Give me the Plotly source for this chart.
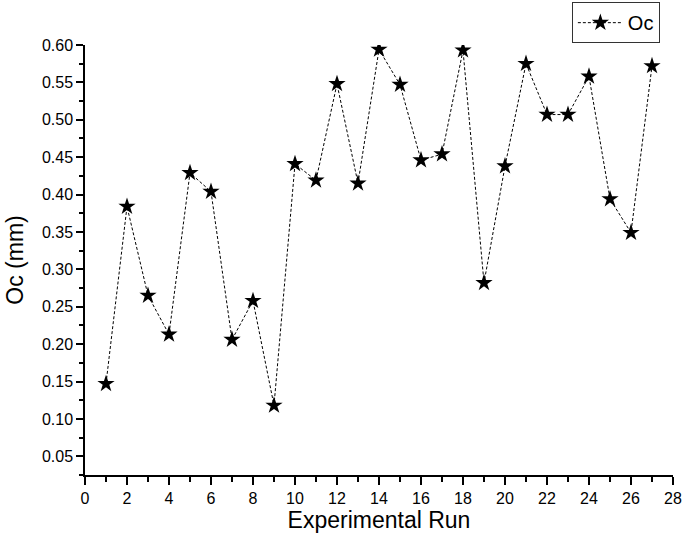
import plotly.graph_objects as go

runs = list(range(1, 28))
oc = [0.147, 0.384, 0.265, 0.213, 0.429, 0.404, 0.206, 0.258, 0.118, 0.441,
      0.419, 0.548, 0.415, 0.594, 0.547, 0.446, 0.454, 0.593, 0.282, 0.438,
      0.575, 0.507, 0.507, 0.558, 0.394, 0.349, 0.572]

FONT = "Liberation Sans, Arial, sans-serif"

fig = go.Figure()
fig.add_trace(go.Scatter(
    x=runs, y=oc, name="Oc", mode="lines+markers",
    line=dict(color="black", width=1, dash="3px,2px"),
    marker=dict(symbol="star", size=13, color="black"),
))

fig.update_layout(
    width=685, height=542,
    margin=dict(l=85, r=12, t=45, b=67),
    paper_bgcolor="white", plot_bgcolor="white",
    font=dict(family=FONT, color="black", size=16),
    showlegend=True,
    legend=dict(x=0.828, xref="paper", y=0.996, yref="container",
                xanchor="left", yanchor="top",
                bordercolor="#333", borderwidth=1, font=dict(size=20),
                itemwidth=45, tracegroupgap=0),
    xaxis=dict(range=[0, 28], tick0=0, dtick=2, showline=True, linecolor="black",
               linewidth=1.5, ticks="outside", ticklen=8, tickwidth=1.5,
               tickcolor="black", showgrid=False, zeroline=False, automargin=False,
               minor=dict(dtick=1, ticks="outside", ticklen=5, tickcolor="black", tickwidth=1.5),
               title=dict(text="Experimental Run", font=dict(size=23), standoff=6),
               tickfont=dict(size=16)),
    yaxis=dict(range=[0.025, 0.60], tick0=0.05, dtick=0.05, tickformat=".2f",
               showline=True, linecolor="black", linewidth=1.5, ticks="outside",
               ticklen=7, tickwidth=1.5, tickcolor="black", showgrid=False,
               zeroline=False, automargin=False,
               minor=dict(dtick=0.025, tick0=0.025, ticks="outside", ticklen=4, tickcolor="black", tickwidth=1.5),
               title=dict(text="Oc (mm)", font=dict(size=23), standoff=12),
               tickfont=dict(size=16)),
)

fig.write_html("out.html", config={"displayModeBar": False},
               post_script="document.body.style.margin='0';")
